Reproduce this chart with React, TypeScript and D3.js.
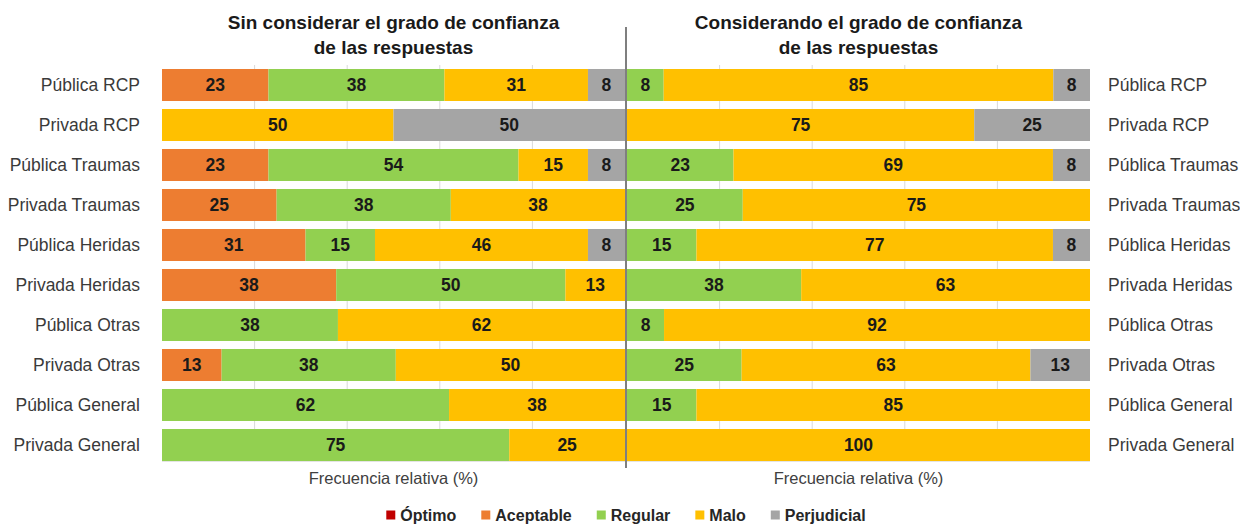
import React, { useEffect, useRef } from 'react';
import * as d3 from 'd3';

const categories = [
  'Pública RCP',
  'Privada RCP',
  'Pública Traumas',
  'Privada Traumas',
  'Pública Heridas',
  'Privada Heridas',
  'Pública Otras',
  'Privada Otras',
  'Pública General',
  'Privada General',
];

const seriesNames = ['Óptimo', 'Aceptable', 'Regular', 'Malo', 'Perjudicial'];
const seriesColors = ['#C00000', '#ED7D31', '#92D050', '#FFC000', '#A5A5A5'];

// Sin considerar el grado de confianza
const sinOptimo = [0, 0, 0, 0, 0, 0, 0, 0, 0, 0];
const sinAceptable = [23, 0, 23, 25, 31, 38, 0, 13, 0, 0];
const sinRegular = [38, 0, 54, 38, 15, 50, 38, 38, 62, 75];
const sinMalo = [31, 50, 15, 38, 46, 13, 62, 50, 38, 25];
const sinPerjudicial = [8, 50, 8, 0, 8, 0, 0, 0, 0, 0];

// Considerando el grado de confianza
const conOptimo = [0, 0, 0, 0, 0, 0, 0, 0, 0, 0];
const conAceptable = [0, 0, 0, 0, 0, 0, 0, 0, 0, 0];
const conRegular = [8, 0, 23, 25, 15, 38, 8, 25, 15, 0];
const conMalo = [85, 75, 69, 75, 77, 63, 92, 63, 85, 100];
const conPerjudicial = [8, 25, 8, 0, 8, 0, 0, 13, 0, 0];

const gridTicks = [0.2, 0.4, 0.6, 0.8];
const axisTitle = 'Frecuencia relativa (%)';

const FONT = '"Liberation Sans", Arial, sans-serif';

export default function App() {
  const svgRef = useRef<SVGSVGElement>(null);

  useEffect(() => {
    const svg = d3.select(svgRef.current);
    svg.selectAll('*').remove();

    const y = d3
      .scaleBand()
      .domain(categories)
      .range([65, 465])
      .paddingInner(0.2)
      .paddingOuter(0.1);

    const panels = [
      {
        title: ['Sin considerar el grado de confianza', 'de las respuestas'],
        x0: 162,
        x1: 625,
        data: [sinOptimo, sinAceptable, sinRegular, sinMalo, sinPerjudicial],
      },
      {
        title: ['Considerando el grado de confianza', 'de las respuestas'],
        x0: 627,
        x1: 1090,
        data: [conOptimo, conAceptable, conRegular, conMalo, conPerjudicial],
      },
    ];

    panels.forEach((p) => {
      const x = d3.scaleLinear().domain([0, 1]).range([p.x0, p.x1]);
      const rows = categories.map((c, i) => {
        const r: any = { cat: c };
        seriesNames.forEach((s, j) => (r[s] = p.data[j][i]));
        return r;
      });
      const stacked = d3
        .stack()
        .keys(seriesNames)
        .offset(d3.stackOffsetExpand)(rows);

      const g = svg.append('g');

      // grid lines
      g.append('g')
        .selectAll('line')
        .data(gridTicks)
        .join('line')
        .attr('x1', (d) => x(d))
        .attr('x2', (d) => x(d))
        .attr('y1', y.range()[0])
        .attr('y2', y.range()[1] - 3)
        .attr('stroke', '#D9D9D9')
        .attr('stroke-width', 1);

      g.append('line')
        .attr('x1', x(0))
        .attr('x2', x(1))
        .attr('y1', y.range()[1] - 3.5)
        .attr('y2', y.range()[1] - 3.5)
        .attr('stroke', '#E4E4E4');

      // bars
      stacked.forEach((layer, j) => {
        g.append('g')
          .attr('fill', seriesColors[j])
          .selectAll('rect')
          .data(layer)
          .join('rect')
          .attr('x', (d) => x(d[0]))
          .attr('width', (d) => Math.max(0, x(d[1]) - x(d[0])))
          .attr('y', (d: any) => y(d.data.cat))
          .attr('height', y.bandwidth());
      });

      // value labels
      stacked.forEach((layer, j) => {
        g.append('g')
          .selectAll('text')
          .data(layer.filter((d) => d[1] > d[0]))
          .join('text')
          .attr('x', (d) => (x(d[0]) + x(d[1])) / 2)
          .attr('y', (d: any) => y(d.data.cat) + y.bandwidth() / 2)
          .attr('dy', '0.37em')
          .attr('text-anchor', 'middle')
          .style('font-family', FONT)
          .style('font-size', '17.5px')
          .style('font-weight', '700')
          .attr('fill', '#1A1A1A')
          .text((d: any) => d.data[seriesNames[j]]);
      });

      // titles
      const cx = (p.x0 + p.x1) / 2;
      g.append('g')
        .selectAll('text')
        .data(p.title)
        .join('text')
        .attr('x', cx)
        .attr('y', (d, i) => 29 + i * 25)
        .attr('text-anchor', 'middle')
        .style('font-family', FONT)
        .style('font-size', '19px')
        .style('font-weight', '700')
        .attr('fill', '#1A1A1A')
        .text((d) => d);

      // axis title
      g.append('text')
        .attr('x', cx)
        .attr('y', 484)
        .attr('text-anchor', 'middle')
        .style('font-family', FONT)
        .style('font-size', '16.5px')
        .attr('fill', '#404040')
        .text(axisTitle);
    });

    // category labels
    [
      { x: 140, anchor: 'end' },
      { x: 1108, anchor: 'start' },
    ].forEach((side) => {
      svg
        .append('g')
        .selectAll('text')
        .data(categories)
        .join('text')
        .attr('x', side.x)
        .attr('y', (d) => y(d) + y.bandwidth() / 2)
        .attr('dy', '0.35em')
        .attr('text-anchor', side.anchor)
        .style('font-family', FONT)
        .style('font-size', '17.5px')
        .attr('fill', '#3A3A3A')
        .text((d) => d);
    });

    // divider
    svg
      .append('line')
      .attr('x1', 626)
      .attr('x2', 626)
      .attr('y1', 27)
      .attr('y2', 468)
      .attr('stroke', '#7F7F7F')
      .attr('stroke-width', 2);

    // legend
    const legend = svg.append('g');
    let cursor = 0;
    seriesNames.forEach((name, i) => {
      const item = legend.append('g').attr('transform', `translate(${cursor},0)`);
      item
        .append('rect')
        .attr('x', 0)
        .attr('y', -4.5)
        .attr('width', 9)
        .attr('height', 9)
        .attr('fill', seriesColors[i]);
      const t = item
        .append('text')
        .attr('x', 14)
        .attr('dy', '0.36em')
        .style('font-family', FONT)
        .style('font-size', '16px')
        .style('font-weight', '700')
        .attr('fill', '#262626')
        .text(name);
      const w = (t.node() as SVGTextElement).getComputedTextLength();
      cursor += 14 + w + (i < seriesNames.length - 1 ? 25 : 0);
    });
    legend.attr('transform', `translate(${626 - cursor / 2},515)`);
  }, []);

  return (
    <svg
      ref={svgRef}
      width={1240}
      height={524}
      style={{ position: 'absolute', left: 0, top: 0, background: '#fff' }}
    />
  );
}
